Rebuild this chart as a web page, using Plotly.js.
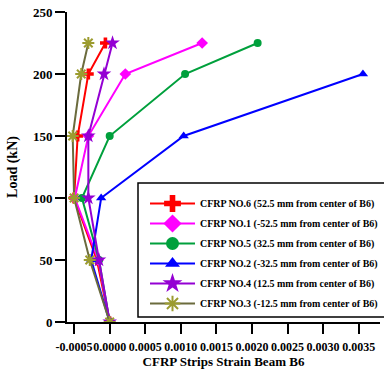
<!DOCTYPE html>
<html><head><meta charset="utf-8">
<script src="https://cdn.plot.ly/plotly-3.0.1.min.js"></script>
<style>html,body{margin:0;padding:0;background:#fff}#chart{width:384px;height:370px}</style>
</head><body><div id="chart"></div>
<script>
const load = [0, 50, 100, 150, 200, 225];
const loadNo2 = [0, 50, 100, 150, 200];
const no6 = [0, -0.00018, -0.00050, -0.00045, -0.00030, -0.00006];
const no1 = [0, -0.00016, -0.00049, -0.00030, 0.00022, 0.00130];
const no5 = [0, -0.00015, -0.00039, 0.00000, 0.00106, 0.00208];
const no2 = [0, -0.00026, -0.00012, 0.00104, 0.00356];
const no4 = [0, -0.00015, -0.00030, -0.00030, -0.00008, 0.00004];
const no3 = [0, -0.00028, -0.00050, -0.00052, -0.00040, -0.00030];
const names = [
  'CFRP NO.6 (52.5 mm from center of B6)',
  'CFRP NO.1 (-52.5 mm from center of B6)',
  'CFRP NO.5 (32.5 mm from center of B6)',
  'CFRP NO.2 (-32.5 mm from center of B6)',
  'CFRP NO.4 (12.5 mm from center of B6)',
  'CFRP NO.3 (-12.5 mm from center of B6)'
];
const xTickVals = [-0.0005, 0, 0.0005, 0.001, 0.0015, 0.002, 0.0025, 0.003, 0.0035];
const xTickText = ['-0.0005', '0.0000', '0.0005', '0.0010', '0.0015', '0.0020', '0.0025', '0.0030', '0.0035'];
const yTickVals = [0, 50, 100, 150, 200, 250];

const styles = [
  {color: '#ff0000', mcolor: '#ff0000', symbol: 'cross', size: 9, lsize: 14},
  {color: '#ff00ff', mcolor: '#ff00ff', symbol: 'diamond', size: 9, lsize: 14},
  {color: '#00a03c', mcolor: '#00a03c', symbol: 'circle', size: 8, lsize: 13},
  {color: '#0000ff', mcolor: '#0000ff', symbol: 'triangle-up', size: 9, lsize: 13},
  {color: '#9400d3', mcolor: '#9400d3', symbol: 'star', size: 11, lsize: 15},
  {color: '#6b6b3d', mcolor: '#9c9c30', symbol: 'asterisk', size: 10, lsize: 13}
];
const xs = [no6, no1, no5, no2, no4, no3];
const ys = [load, load, load, loadNo2, load, load];

function marker(s, size) {
  const m = {symbol: s.symbol, size: size, color: s.mcolor};
  if (s.symbol === 'asterisk') m.line = {color: s.mcolor, width: 2};
  else m.line = {width: 0};
  return m;
}

const traces = [];
for (let i = 0; i < 6; i++) {
  const s = styles[i];
  traces.push({x: xs[i], y: ys[i], type: 'scatter', mode: 'lines+markers', showlegend: false,
    line: {color: s.color, width: 2}, marker: marker(s, s.size), hoverinfo: 'skip'});
}
for (let i = 0; i < 6; i++) {
  const s = styles[i];
  traces.push({x: [null], y: [null], type: 'scatter', mode: 'lines+markers', name: names[i],
    legendgroup: 'g' + i,
    line: {color: s.color, width: 2}, marker: marker(s, s.lsize)});
}

const font = {family: '"Liberation Serif", "Times New Roman", serif', color: '#000', weight: 'bold'};
const pw = 313, ph = 310;
const layout = {
  width: 384, height: 370,
  margin: {l: 67, r: 4, t: 12, b: 48, autoexpand: false},
  paper_bgcolor: '#fff', plot_bgcolor: '#fff',
  showlegend: true,
  xaxis: {range: [-0.0006, 0.0038], tickvals: xTickVals, ticktext: xTickText, tickangle: 0,
    showgrid: false, zeroline: false, showline: true, linecolor: '#000', linewidth: 2,
    ticks: 'outside', ticklen: 10, tickwidth: 2, tickcolor: '#000', ticklabelstandoff: 3,
    tickfont: Object.assign({size: 12}, font),
    title: {text: 'CFRP Strips Strain Beam B6', font: Object.assign({size: 13}, font), standoff: 1}},
  yaxis: {range: [0, 250], tickvals: yTickVals,
    showgrid: false, zeroline: false, showline: true, linecolor: '#000', linewidth: 2,
    ticks: 'outside', ticklen: 10, tickwidth: 2, tickcolor: '#000',
    tickfont: Object.assign({size: 13}, font),
    title: {text: 'Load (kN)', font: Object.assign({size: 14}, font), standoff: 12}},
  shapes: [{type: 'rect', xref: 'paper', yref: 'paper',
    x0: (138 - 67) / pw, x1: (392 - 67) / pw, y0: (322 - 317) / ph, y1: (322 - 183) / ph,
    line: {color: '#000', width: 1.5}, fillcolor: 'rgba(0,0,0,0)', layer: 'below'}],
  legend: {x: (145 - 67) / pw, y: (322 - 189) / ph, xanchor: 'left', yanchor: 'top',
    bgcolor: 'rgba(0,0,0,0)', borderwidth: 0, itemwidth: 45,
    font: Object.assign({size: 10}, font), tracegroupgap: 1, itemsizing: 'trace'}
};
Plotly.newPlot('chart', traces, layout, {displayModeBar: false, staticPlot: true});
</script></body></html>
